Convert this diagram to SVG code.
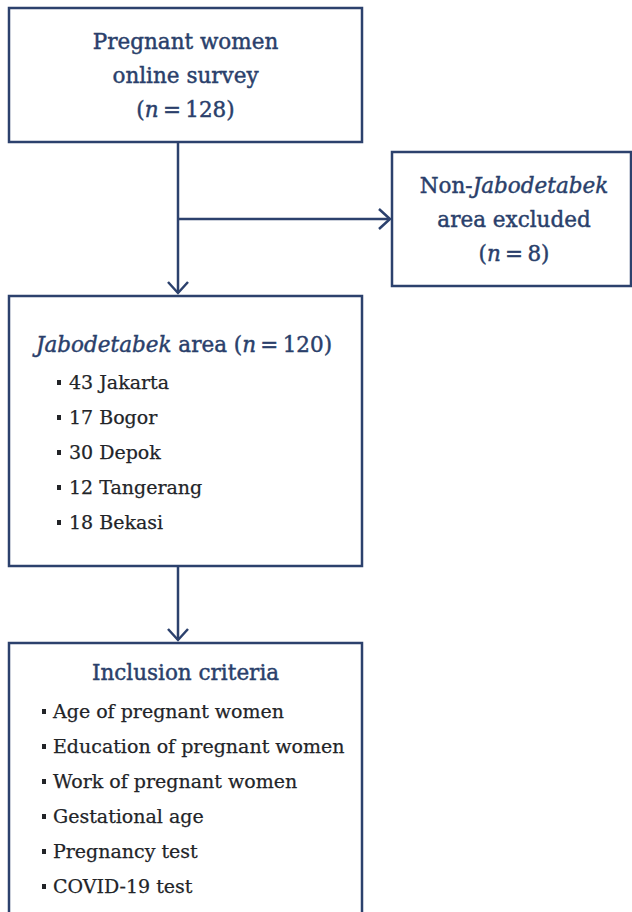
<svg xmlns="http://www.w3.org/2000/svg" width="632" height="912" viewBox="0 0 632 912">
<defs>
<style>
.box{fill:#ffffff;stroke:#2c416d;stroke-width:2.5}
.conn{fill:none;stroke:#2c416d;stroke-width:2.5}
.ttl{font-family:"DejaVu Serif","Liberation Serif",serif;font-size:21.5px;fill:#2a3f6b;stroke:#2a3f6b;stroke-width:0.45}
.itm{font-family:"DejaVu Serif","Liberation Serif",serif;font-size:19px;fill:#222428;stroke:#222428;stroke-width:0.25}
.bul{fill:#222428}
</style>
<marker id="arr" viewBox="-15 -15 30 30" markerWidth="30" markerHeight="30" refX="0" refY="0" orient="auto" markerUnits="userSpaceOnUse" overflow="visible">
<path d="M-11,-10 L0,0 L-11,10" fill="none" stroke="#2c416d" stroke-width="2.5"/>
</marker>
</defs>
<rect width="632" height="912" fill="#ffffff"/>
<g id="connectors">
<path class="conn" d="M178,142 L178,293" marker-end="url(#arr)"/>
<path class="conn" d="M178,219 L390,219" marker-end="url(#arr)"/>
<path class="conn" d="M178,566 L178,640" marker-end="url(#arr)"/>
</g>
<g id="survey">
<rect class="box" x="9" y="8" width="353" height="134"/>
<text class="ttl" x="185.5" y="49" text-anchor="middle">Pregnant women</text>
<text class="ttl" x="185.5" y="83" text-anchor="middle">online survey</text>
<text class="ttl" x="185.5" y="117" text-anchor="middle">(<tspan font-style="italic">n</tspan>&#8201;=&#8201;128)</text>
</g>
<g id="excluded">
<rect class="box" x="392" y="152" width="239" height="134"/>
<text class="ttl" x="514" y="193" text-anchor="middle">Non-<tspan font-style="italic">Jabodetabek</tspan></text>
<text class="ttl" x="514" y="227" text-anchor="middle">area excluded</text>
<text class="ttl" x="514" y="261" text-anchor="middle">(<tspan font-style="italic">n</tspan>&#8201;=&#8201;8)</text>
</g>
<g id="jabodetabek">
<rect class="box" x="9" y="296" width="353" height="270"/>
<text class="ttl" x="184" y="352" text-anchor="middle"><tspan font-style="italic">Jabodetabek</tspan> area (<tspan font-style="italic">n</tspan>&#8201;=&#8201;120)</text>
<rect class="bul" x="57" y="380" width="4" height="5"/>
<text class="itm" x="69" y="389">43 Jakarta</text>
<rect class="bul" x="57" y="415" width="4" height="5"/>
<text class="itm" x="69" y="424">17 Bogor</text>
<rect class="bul" x="57" y="450" width="4" height="5"/>
<text class="itm" x="69" y="459">30 Depok</text>
<rect class="bul" x="57" y="485" width="4" height="5"/>
<text class="itm" x="69" y="494">12 Tangerang</text>
<rect class="bul" x="57" y="520" width="4" height="5"/>
<text class="itm" x="69" y="529">18 Bekasi</text>
</g>
<g id="inclusion">
<rect class="box" x="9" y="643" width="353" height="280"/>
<text class="ttl" x="185.5" y="680" text-anchor="middle">Inclusion criteria</text>
<rect class="bul" x="42" y="709" width="4" height="5"/>
<text class="itm" x="53" y="718">Age of pregnant women</text>
<rect class="bul" x="42" y="744" width="4" height="5"/>
<text class="itm" x="53" y="753">Education of pregnant women</text>
<rect class="bul" x="42" y="779" width="4" height="5"/>
<text class="itm" x="53" y="788">Work of pregnant women</text>
<rect class="bul" x="42" y="814" width="4" height="5"/>
<text class="itm" x="53" y="823">Gestational age</text>
<rect class="bul" x="42" y="849" width="4" height="5"/>
<text class="itm" x="53" y="858">Pregnancy test</text>
<rect class="bul" x="42" y="884" width="4" height="5"/>
<text class="itm" x="53" y="893">COVID-19 test</text>
</g>
</svg>
